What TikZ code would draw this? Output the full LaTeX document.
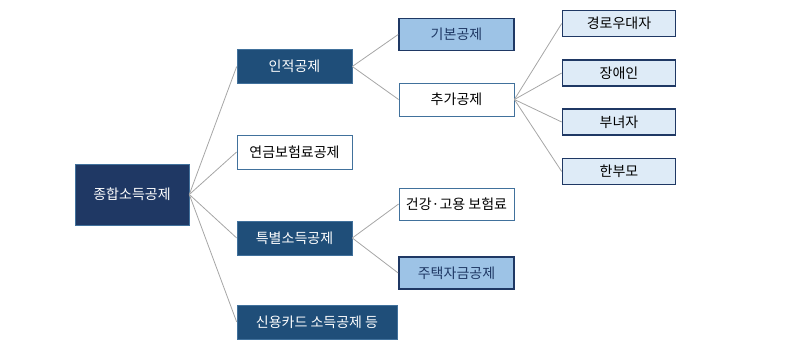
\documentclass[tikz,border=0pt]{standalone}
\usepackage{fontspec}
\setmainfont{Noto Sans CJK KR}
\usepackage{tikz}
\usetikzlibrary{positioning}
\definecolor{navyroot}{HTML}{1F3864}
\definecolor{navybox}{HTML}{1F4E79}
\definecolor{midblue}{HTML}{9DC3E6}
\definecolor{paleblue}{HTML}{DEEBF7}
\definecolor{edgeblue}{HTML}{41719C}
\definecolor{linegray}{HTML}{A6A6A6}

\begin{document}
\begin{tikzpicture}[
  x=1pt, y=-1pt,
  font=\fontsize{14}{16}\selectfont,
  box/.style={rectangle,inner sep=0pt,minimum height=34pt,minimum width=115pt},
  darkbox/.style={box,fill=navybox,draw=edgeblue,line width=0.6pt,text=white},
  whitebox/.style={box,fill=white,draw=edgeblue,line width=0.8pt},
  bluebox/.style={box,fill=midblue,draw=navyroot,line width=1.6pt,text=navyroot,minimum height=32pt},
  palebox/.style={box,fill=paleblue,draw=navyroot,line width=1.6pt,minimum width=113pt,minimum height=26pt},
  link/.style={draw=linegray,line width=0.8pt}
]
\useasboundingbox (0,0) rectangle (796,350);
\node[darkbox,fill=navyroot,minimum width=114pt,minimum height=61pt] (root) at (132,194.5) {종합소득공제};
\node[darkbox] (personal) at (294.5,66.5) {인적공제};
\node[whitebox] (pension) at (294.5,152) {연금보험료공제};
\node[darkbox] (special) at (294.5,238) {특별소득공제};
\node[darkbox,minimum width=160pt] (card) at (317,322) {신용카드 소득공제 등};
\node[bluebox] (basic) at (456.5,34.5) {기본공제};
\node[whitebox,minimum height=33pt] (extra) at (456.5,99.5) {추가공제};
\node[whitebox,minimum height=32pt] (insure) at (456.5,204) {건강·고용 보험료};
\node[bluebox] (housing) at (456.5,273) {주택자금공제};
\node[palebox] (elder) at (619,23.5) {경로우대자};
\node[palebox] (disabled) at (619,73) {장애인};
\node[palebox] (woman) at (619,122) {부녀자};
\node[palebox] (single) at (619,171.5) {한부모};
\foreach \kid in {personal,pension,special,card}
  \draw[link] (root.east) -- (\kid.west);
\draw[link] (personal.east) -- (basic.west);
\draw[link] (personal.east) -- (extra.west);
\draw[link] (special.east) -- (insure.west);
\draw[link] (special.east) -- (housing.west);
\foreach \kid in {elder,disabled,woman,single}
  \draw[link] (extra.east) -- (\kid.west);
\end{tikzpicture}
\end{document}
